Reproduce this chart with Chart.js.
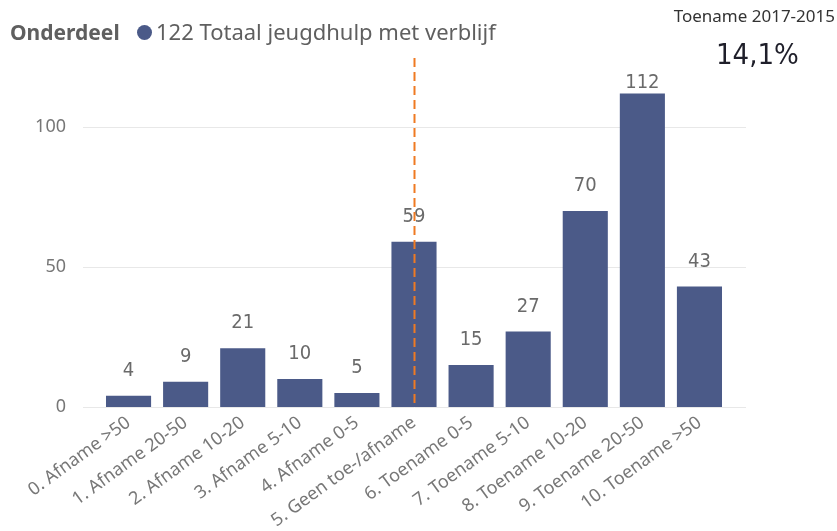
<!DOCTYPE html>
<html>
<head>
<meta charset="utf-8">
<script src="https://cdn.jsdelivr.net/npm/chart.js@4.4.0/dist/chart.umd.min.js"></script>
<style>
  body { margin: 0; background: #fff; }
  #wrap { position: relative; width: 837px; height: 531px; overflow: hidden; }
  #chart { position: absolute; left: 0; top: 0; }
  .hdr { position: absolute; white-space: nowrap; }
  #title { left: 10px; top: 18px; font: bold 21px "Noto Sans", sans-serif; color: #5f5f5f; }
  #dot { left: 137px; top: 25px; width: 15px; height: 15px; border-radius: 50%; background: #4b5a88; }
  #series { left: 156px; top: 16px; font: 22px "Noto Sans", sans-serif; color: #5f5f5f; }
  #kpiTitle { right: 2px; top: 4px; font: 17px "Noto Sans", sans-serif; color: #333; }
  #kpi { left: 716px; top: 37px; font: 29px "DejaVu Sans Condensed", sans-serif; color: #1f1f2a; }
</style>
</head>
<body>
<div id="wrap">
  <canvas id="chart" width="837" height="531"></canvas>
  <div class="hdr" id="title">Onderdeel</div>
  <div class="hdr" id="dot"></div>
  <div class="hdr" id="series">122 Totaal jeugdhulp met verblijf</div>
  <div class="hdr" id="kpiTitle">Toename 2017-2015</div>
  <div class="hdr" id="kpi">14,1%</div>
</div>
<script>
const categories = ["0. Afname >50", "1. Afname 20-50", "2. Afname 10-20", "3. Afname 5-10", "4. Afname 0-5",
  "5. Geen toe-/afname", "6. Toename 0-5", "7. Toename 5-10", "8. Toename 10-20", "9. Toename 20-50", "10. Toename >50"];
const values = [4, 9, 21, 10, 5, 59, 15, 27, 70, 112, 43];
const yTicks = [0, 50, 100];
const markerCategory = "5. Geen toe-/afname";

// gridlines run a little past the bars, like in the original
const gridPlugin = {
  id: 'extGrid',
  beforeDatasetsDraw(chart) {
    const { ctx, chartArea, scales: { y } } = chart;
    ctx.save();
    ctx.strokeStyle = '#e8e8e8';
    ctx.lineWidth = 1;
    yTicks.forEach(v => {
      const py = Math.round(y.getPixelForValue(v)) + 0.5;
      ctx.beginPath();
      ctx.moveTo(chartArea.left - 17, py);
      ctx.lineTo(chartArea.right + 18, py);
      ctx.stroke();
    });
    ctx.restore();
  }
};

const labelPlugin = {
  id: 'barLabels',
  afterDatasetsDraw(chart) {
    const { ctx, chartArea, scales: { x } } = chart;
    const meta = chart.getDatasetMeta(0);
    ctx.save();
    ctx.font = '20px "DejaVu Sans Condensed", sans-serif';
    ctx.fillStyle = '#6a6a6a';
    ctx.textAlign = 'center';
    ctx.textBaseline = 'middle';
    meta.data.forEach((bar, i) => {
      const ly = Math.max(bar.y - 25, chartArea.top + 26);
      ctx.fillText(String(values[i]), bar.x, ly);
    });
    // dashed marker line
    const mx = Math.round(x.getPixelForValue(categories.indexOf(markerCategory))) + 0.5;
    ctx.strokeStyle = '#ef7a22';
    ctx.lineWidth = 2;
    ctx.setLineDash([9, 5]);
    ctx.beginPath();
    ctx.moveTo(mx, chartArea.top + 1);
    ctx.lineTo(mx, chartArea.bottom);
    ctx.stroke();
    ctx.restore();
  }
};

new Chart(document.getElementById('chart').getContext('2d'), {
  type: 'bar',
  data: {
    labels: categories,
    datasets: [{
      data: values,
      backgroundColor: '#4b5a88',
      categoryPercentage: 1,
      barPercentage: 0.79
    }]
  },
  options: {
    responsive: false,
    devicePixelRatio: 1,
    animation: false,
    layout: { padding: { top: 57, right: 109, left: 0, bottom: 0 } },
    plugins: { legend: { display: false }, tooltip: { enabled: false } },
    scales: {
      x: {
        grid: { display: false, drawTicks: false },
        border: { display: false },
        ticks: {
          autoSkip: false,
          minRotation: 36,
          maxRotation: 36,
          padding: 5,
          color: '#777',
          font: { family: '"Noto Sans", sans-serif', size: 18 }
        },
        afterFit(s) { s.height = 124; }
      },
      y: {
        min: 0,
        max: 125,
        grid: { display: false, drawTicks: false },
        border: { display: false },
        ticks: {
          padding: 34,
          color: '#777',
          font: { family: '"Noto Sans", sans-serif', size: 18 }
        },
        afterBuildTicks(s) { s.ticks = yTicks.map(v => ({ value: v })); },
        afterFit(s) { s.width = 100; }
      }
    }
  },
  plugins: [gridPlugin, labelPlugin]
});
</script>
</body>
</html>
